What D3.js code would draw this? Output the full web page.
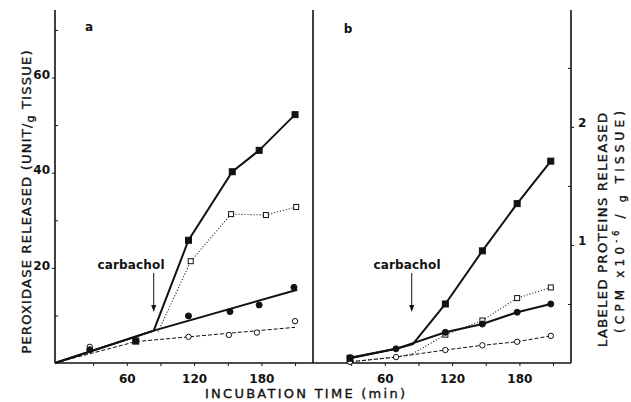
<!DOCTYPE html>
<html>
<head>
<meta charset="utf-8">
<script src="https://cdn.jsdelivr.net/npm/d3@7"></script>
<style>
  body { margin: 0; background: #fff; }
  text { font-family: "DejaVu Sans", sans-serif; fill: #111; }
  .title { stroke: #111; stroke-width: 0.35px; }
</style>
</head>
<body>
<div id="chart"></div>
<script>
var svgWidth = 631;
var svgHeight = 402;

// panel a : peroxidase released (unit / g tissue)
var aFilledCircleTime = [27, 115, 152, 178, 209];
var aFilledCircleValue = [2.8, 9.9, 10.8, 12.2, 15.9];
var aOpenCircleTime = [27, 68, 115, 151, 176, 210];
var aOpenCircleValue = [3.4, 4.8, 5.5, 5.9, 6.4, 8.8];
var aFilledSquareTime = [68, 115, 154, 178, 210];
var aFilledSquareValue = [4.6, 25.8, 40.2, 44.7, 52.2];
var aOpenSquareTime = [117, 153, 184, 211];
var aOpenSquareValue = [21.4, 31.3, 31.1, 32.8];
// drawn lines of panel a
var aSolidFitTime = [-4, 84, 212];
var aSolidFitValue = [0, 6.8, 15.4];
var aDashedFitTime = [-4, 68, 210];
var aDashedFitValue = [0, 4.5, 7.5];
var aSquareLineTime = [-4, 84, 115, 154, 178, 210];
var aSquareLineValue = [0, 6.8, 25.8, 40.2, 44.7, 52.2];
var aDottedLineTime = [88, 117, 153, 184, 211];
var aDottedLineValue = [6.6, 21.4, 31.3, 31.1, 32.8];

// panel b : labeled proteins released (cpm x10^-6 / g tissue)
var bTime = [29, 70, 114, 147, 178, 208];
var bFilledCircleValue = [0.045, 0.12, 0.26, 0.33, 0.43, 0.5];
var bOpenCircleValue = [0.01, 0.05, 0.11, 0.15, 0.18, 0.23];
var bFilledSquareTime = [29, 114, 147, 178, 208];
var bFilledSquareValue = [0.04, 0.5, 0.95, 1.35, 1.71];
var bOpenSquareTime = [114, 147, 178, 208];
var bOpenSquareValue = [0.24, 0.36, 0.55, 0.64];
var bSquareLineTime = [29, 70, 85, 114, 147, 178, 208];
var bSquareLineValue = [0.04, 0.12, 0.16, 0.5, 0.95, 1.35, 1.71];
var bDottedLineTime = [29, 70, 85, 114, 147, 178, 208];
var bDottedLineValue = [0.01, 0.05, 0.08, 0.24, 0.36, 0.55, 0.64];

var carbacholTime = 84;
var xTicks = [60, 120, 180];
var xMinorTicks = [30, 90, 150, 210];
var leftTicks = [20, 40, 60];
var leftMinorTicks = [10, 30, 50, 70];
var rightTicks = [1, 2];
var rightMinorTicks = [0.5, 1.5, 2.5];

var plotTop = 10, plotBottom = 363, plotLeft = 55, plotMid = 313, plotRight = 571;

var svg = d3.select("#chart")
    .append("svg")
    .attr("width", svgWidth)
    .attr("height", svgHeight);

var xA = d3.scaleLinear().domain([-4, 226]).range([plotLeft, plotMid]);
var xB = d3.scaleLinear().domain([-4, 226]).range([plotMid, plotRight]);
var yL = d3.scaleLinear().domain([0, 74.2]).range([plotBottom, plotTop]);
var yR = d3.scaleLinear().domain([0, 2.99]).range([plotBottom, plotTop]);

function zip(t, v) {
  return t.map(function(d, i) { return [d, v[i]]; });
}

// axes
function xAxis(scale) {
  var g = svg.append("g").attr("transform", "translate(0," + plotBottom + ")");
  g.call(d3.axisBottom(scale).tickValues(xTicks).tickSize(3).tickFormat(d3.format("d")));
  g.append("g").call(d3.axisBottom(scale).tickValues(xMinorTicks).tickSize(3).tickFormat(""));
  g.selectAll(".domain").remove();
  g.selectAll("line").attr("stroke", "#111").attr("stroke-width", 1);
  g.selectAll("text")
    .attr("dy", "1.15em")
    .style("font-size", "12px")
    .style("font-weight", "bold")
    .attr("fill", "#111");
}
xAxis(xA);
xAxis(xB);

var gl = svg.append("g").attr("transform", "translate(" + plotLeft + ",0)");
gl.call(d3.axisLeft(yL).tickValues(leftTicks).tickSize(3).tickFormat(d3.format("d")));
gl.append("g").call(d3.axisRight(yL).tickValues(leftMinorTicks).tickSize(3).tickFormat(""));
gl.selectAll(".domain").remove();
gl.selectAll("line").attr("stroke", "#111");
gl.selectAll("text")
  .attr("x", -5).attr("dy", "0.1em")
  .style("font-size", "12px").style("font-weight", "bold").attr("fill", "#111");

var gr = svg.append("g").attr("transform", "translate(" + plotRight + ",0)");
gr.call(d3.axisRight(yR).tickValues(rightTicks).tickSize(3).tickFormat(d3.format("d")));
gr.append("g").call(d3.axisLeft(yR).tickValues(rightMinorTicks).tickSize(3).tickFormat(""));
gr.selectAll(".domain").remove();
gr.selectAll("line").attr("stroke", "#111");
gr.selectAll("text")
  .attr("x", 7).attr("dy", "-0.05em")
  .style("font-size", "12px").style("font-weight", "bold").attr("fill", "#111");

// frame lines
svg.append("line").attr("x1", plotLeft).attr("x2", plotRight).attr("y1", plotBottom).attr("y2", plotBottom)
  .attr("stroke", "#111").attr("stroke-width", 1.6);
[plotLeft, plotMid, plotRight].forEach(function(x) {
  svg.append("line").attr("x1", x).attr("x2", x).attr("y1", plotTop).attr("y2", plotBottom)
    .attr("stroke", "#111").attr("stroke-width", 1.6);
});

// lines
function drawLine(data, xs, ys, width, dash) {
  svg.append("path")
    .datum(data)
    .attr("fill", "none")
    .attr("stroke", "#111")
    .attr("stroke-width", width)
    .attr("stroke-dasharray", dash)
    .attr("d", d3.line().x(function(d) { return xs(d[0]); }).y(function(d) { return ys(d[1]); }));
}

drawLine(zip(aDashedFitTime, aDashedFitValue), xA, yL, 1, "4,2");
drawLine(zip(aDottedLineTime, aDottedLineValue), xA, yL, 1.1, "1,2");
drawLine(zip(aSolidFitTime, aSolidFitValue), xA, yL, 2, null);
drawLine(zip(aSquareLineTime, aSquareLineValue), xA, yL, 2, null);

drawLine(zip(bTime, bOpenCircleValue), xB, yR, 1, "4,2");
drawLine(zip(bDottedLineTime, bDottedLineValue), xB, yR, 1.1, "1,2");
drawLine(zip(bTime, bFilledCircleValue), xB, yR, 2, null);
drawLine(zip(bSquareLineTime, bSquareLineValue), xB, yR, 2, null);

// markers
function circles(data, xs, ys, filled) {
  svg.selectAll(null)
    .data(data)
    .enter()
    .append("circle")
    .attr("cx", function(d) { return xs(d[0]); })
    .attr("cy", function(d) { return ys(d[1]); })
    .attr("r", filled ? 3 : 2.7)
    .attr("fill", filled ? "#111" : "#fff")
    .attr("stroke", "#111")
    .attr("stroke-width", 1);
}
function squares(data, xs, ys, filled) {
  var s = filled ? 6 : 5;
  svg.selectAll(null)
    .data(data)
    .enter()
    .append("rect")
    .attr("x", function(d) { return xs(d[0]) - s / 2; })
    .attr("y", function(d) { return ys(d[1]) - s / 2; })
    .attr("width", s)
    .attr("height", s)
    .attr("fill", filled ? "#111" : "#fff")
    .attr("stroke", "#111")
    .attr("stroke-width", 1);
}

circles(zip(aOpenCircleTime, aOpenCircleValue), xA, yL, false);
squares(zip(aOpenSquareTime, aOpenSquareValue), xA, yL, false);
circles(zip(aFilledCircleTime, aFilledCircleValue), xA, yL, true);
squares(zip(aFilledSquareTime, aFilledSquareValue), xA, yL, true);

circles(zip(bTime, bOpenCircleValue), xB, yR, false);
squares(zip(bOpenSquareTime, bOpenSquareValue), xB, yR, false);
circles(zip(bTime, bFilledCircleValue), xB, yR, true);
squares(zip(bFilledSquareTime, bFilledSquareValue), xB, yR, true);

// carbachol arrows
function carbachol(xs, tx) {
  var x = xs(carbacholTime);
  svg.append("text")
    .attr("x", tx).attr("y", 269)
    .attr("text-anchor", "middle")
    .style("font-size", "12px").style("font-weight", "bold")
    .attr("textLength", 67).attr("lengthAdjust", "spacing")
    .text("carbachol");
  svg.append("line").attr("x1", x).attr("x2", x).attr("y1", 273).attr("y2", 306)
    .attr("stroke", "#111").attr("stroke-width", 1);
  svg.append("path")
    .attr("d", "M" + (x - 2.5) + ",305 L" + (x + 2.5) + ",305 L" + x + ",312 Z")
    .attr("fill", "#111");
}
carbachol(xA, 131);
carbachol(xB, 407);

// panel letters
svg.append("text").attr("x", 89).attr("y", 31).style("font-size", "12px").style("font-weight", "bold")
  .attr("text-anchor", "middle").text("a");
svg.append("text").attr("x", 348).attr("y", 33).style("font-size", "12px").style("font-weight", "bold")
  .attr("text-anchor", "middle").text("b");

// axis titles
svg.append("text")
  .attr("class", "title")
  .attr("x", 305).attr("y", 398)
  .attr("text-anchor", "middle")
  .style("font-size", "13px")
  .attr("textLength", 200).attr("lengthAdjust", "spacing")
  .text("INCUBATION TIME (min)");

var lt = svg.append("text")
  .attr("class", "title")
  .attr("transform", "translate(31,202) rotate(-90)")
  .attr("text-anchor", "middle")
  .style("font-size", "13px")
  .attr("textLength", 303).attr("lengthAdjust", "spacing");
lt.append("tspan").text("PEROXIDASE  RELEASED (UNIT/");
lt.append("tspan").attr("dy", 3).style("font-size", "11px").text("g");
lt.append("tspan").attr("dy", -3).text(" TISSUE)");

svg.append("text")
  .attr("class", "title")
  .attr("transform", "translate(607,230) rotate(-90)")
  .attr("text-anchor", "middle")
  .style("font-size", "13px")
  .attr("textLength", 234).attr("lengthAdjust", "spacing")
  .text("LABELED  PROTEINS  RELEASED");

var rt = svg.append("text")
  .attr("class", "title")
  .attr("transform", "translate(624,222) rotate(-90)")
  .attr("text-anchor", "middle")
  .style("font-size", "12px")
  .attr("textLength", 222).attr("lengthAdjust", "spacing");
rt.append("tspan").text("(CPM x10");
rt.append("tspan").attr("dy", -5).style("font-size", "8px").text("-6");
rt.append("tspan").attr("dy", 5).text(" / ");
rt.append("tspan").attr("dy", 2).style("font-size", "11px").text("g");
rt.append("tspan").attr("dy", -2).text(" TISSUE)");
</script>
</body>
</html>
